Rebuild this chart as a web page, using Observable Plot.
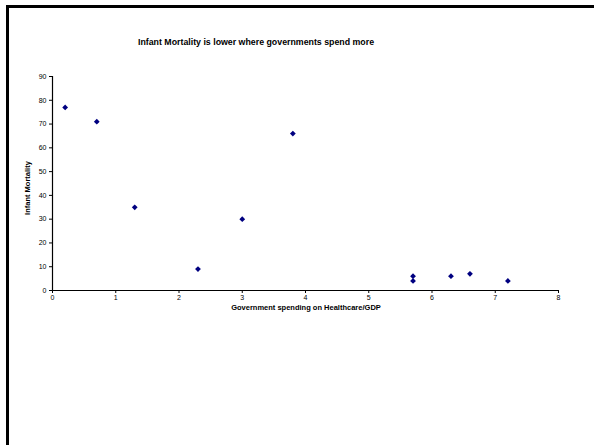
<!DOCTYPE html>
<html>
<head>
<meta charset="utf-8">
<script src="https://cdn.jsdelivr.net/npm/d3@7"></script>
<script src="https://cdn.jsdelivr.net/npm/@observablehq/plot@0.6"></script>
<style>
  html, body { margin: 0; padding: 0; background: #fff; }
  #wrap { position: relative; width: 594px; height: 445px; overflow: hidden; font-family: "Liberation Sans", Arial, sans-serif; }
  #frame { position: absolute; left: 6px; top: 5px; width: 600px; height: 460px; border-top: 3px solid #000; border-left: 3px solid #000; box-sizing: border-box; pointer-events: none; }
  .lbl { position: absolute; font-weight: bold; color: #000; white-space: nowrap; line-height: 1; }
  #title { left: 0; width: 512px; top: 38px; text-align: center; font-size: 8.8px; }
  #xtitle { left: 52px; width: 508px; top: 304px; text-align: center; font-size: 7.5px; }
  #ytitle { left: 28px; top: 188px; font-size: 7.5px; transform: translate(-50%, -50%) rotate(-90deg); }
  #chart { position: absolute; left: 0; top: 0; }
</style>
</head>
<body>
<div id="wrap">
  <div id="chart"></div>
  <div id="frame"></div>
  <div class="lbl" id="title">Infant Mortality is lower where governments spend more</div>
  <div class="lbl" id="xtitle">Government spending on Healthcare/GDP</div>
  <div class="lbl" id="ytitle">Infant Mortality</div>
</div>
<script>
const spending = [0.2, 0.7, 1.3, 2.3, 3.0, 3.8, 5.7, 5.7, 6.3, 6.6, 7.2];
const mortality = [77, 71, 35, 9, 30, 66, 6, 4, 6, 7, 4];
const xTicks = [0, 1, 2, 3, 4, 5, 6, 7, 8];
const yTicks = [0, 10, 20, 30, 40, 50, 60, 70, 80, 90];

const data = spending.map((s, i) => ({spending: s, mortality: mortality[i]}));

const chart = Plot.plot({
  width: 594,
  height: 445,
  marginLeft: 52,
  marginRight: 36,
  marginTop: 76,
  marginBottom: 155,
  style: {fontFamily: "Liberation Sans, Arial, sans-serif", fontSize: "7px", color: "#000", background: "transparent"},
  x: {domain: [0, 8], label: null},
  y: {domain: [0, 90], label: null},
  marks: [
    Plot.ruleY([0], {stroke: "#000", strokeWidth: 1.2}),
    Plot.ruleX([0], {stroke: "#000", strokeWidth: 1.2}),
    Plot.axisX({ticks: xTicks, tickSize: 3, tickPadding: 2, stroke: "#000", strokeOpacity: 1, tickFormat: d3.format("d"), label: null}),
    Plot.axisY({ticks: yTicks, tickSize: 3, tickPadding: 3, stroke: "#000", strokeOpacity: 1, tickFormat: d3.format("d"), label: null}),
    Plot.dot(data, {x: "spending", y: "mortality", symbol: "diamond2", r: 2.6, fill: "#000080", stroke: "none"})
  ]
});
document.getElementById("chart").appendChild(chart);
</script>
</body>
</html>
